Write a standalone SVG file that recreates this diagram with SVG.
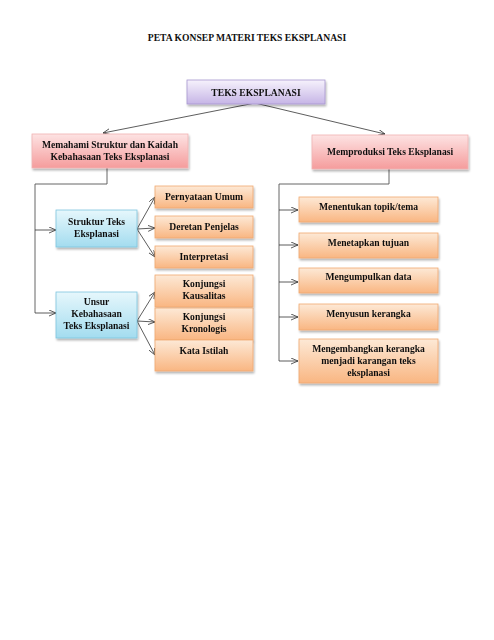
<svg xmlns="http://www.w3.org/2000/svg" width="494" height="640" viewBox="0 0 494 640">
<defs>
<linearGradient id="gPurple" x1="0" y1="0" x2="0" y2="1"><stop offset="0" stop-color="#f6f2fc"/><stop offset="1" stop-color="#c6b5e6"/></linearGradient>
<linearGradient id="gPink" x1="0" y1="0" x2="0" y2="1"><stop offset="0" stop-color="#fde3e3"/><stop offset="1" stop-color="#f59c9c"/></linearGradient>
<linearGradient id="gOrange" x1="0" y1="0" x2="0" y2="1"><stop offset="0" stop-color="#fde9d6"/><stop offset="1" stop-color="#f9b682"/></linearGradient>
<linearGradient id="gBlue" x1="0" y1="0" x2="0" y2="1"><stop offset="0" stop-color="#e6f7fc"/><stop offset="1" stop-color="#a3dcef"/></linearGradient>
<filter id="sh" x="-10%" y="-20%" width="130%" height="160%"><feGaussianBlur in="SourceAlpha" stdDeviation="1.2"/><feOffset dx="1" dy="2"/><feComponentTransfer><feFuncA type="linear" slope="0.3"/></feComponentTransfer><feMerge><feMergeNode/><feMergeNode in="SourceGraphic"/></feMerge></filter>
<marker id="arr" markerWidth="8" markerHeight="8" refX="7" refY="3" orient="auto" markerUnits="userSpaceOnUse"><path d="M0,0 L7,3 L0,6" fill="none" stroke="#333" stroke-width="0.8"/></marker>
</defs>
<style>
text{font-family:"Liberation Serif","Times New Roman",serif;font-weight:bold;fill:#111;text-anchor:middle;font-size:9.6px}
.title{font-size:9.6px}
.p{fill:url(#gPurple);stroke:#a797cf;stroke-width:0.8}
.k{fill:url(#gPink);stroke:#f1b3b3;stroke-width:0.8}
.o{fill:url(#gOrange);stroke:#f0a970;stroke-width:0.8}
.b{fill:url(#gBlue);stroke:#7ec5de;stroke-width:0.8}
.ln{fill:none;stroke:#333;stroke-width:0.8}
.tr{fill:none;stroke:#555;stroke-width:0.9}
</style>
<rect width="494" height="640" fill="#fff"/>
<text class="title" x="247" y="41">PETA KONSEP MATERI TEKS EKSPLANASI</text>

<g id="connectors">
<path class="ln" d="M255,103 L103,133" marker-end="url(#arr)"/>
<path class="ln" d="M255,103 L385,134" marker-end="url(#arr)"/>
<path class="tr" d="M107,168 V184 H35 V313"/>
<path class="ln" d="M35,230 H56" marker-end="url(#arr)"/>
<path class="ln" d="M35,313 H56" marker-end="url(#arr)"/>
<path class="ln" d="M137,229 L155,197" marker-end="url(#arr)"/>
<path class="ln" d="M137,229 L155,228" marker-end="url(#arr)"/>
<path class="ln" d="M137,229 L155,257" marker-end="url(#arr)"/>
<path class="ln" d="M137,321 L155,292" marker-end="url(#arr)"/>
<path class="ln" d="M137,321 L155,322" marker-end="url(#arr)"/>
<path class="ln" d="M137,321 L155,355" marker-end="url(#arr)"/>
<path class="tr" d="M389,168 V184 H279 V361"/>
<path class="ln" d="M279,210 H298" marker-end="url(#arr)"/>
<path class="ln" d="M279,245 H298" marker-end="url(#arr)"/>
<path class="ln" d="M279,282 H298" marker-end="url(#arr)"/>
<path class="ln" d="M279,317 H298" marker-end="url(#arr)"/>
<path class="ln" d="M279,361 H298" marker-end="url(#arr)"/>
</g>

<g id="n-teks" filter="url(#sh)"><rect class="p" x="187" y="80" width="138" height="24"/><text x="256" y="95.5">TEKS EKSPLANASI</text></g>
<g id="n-memahami" filter="url(#sh)"><rect class="k" x="32" y="134" width="156" height="34"/><text x="110" y="148">Memahami Struktur dan Kaidah</text><text x="110" y="160">Kebahasaan Teks Eksplanasi</text></g>
<g id="n-memproduksi" filter="url(#sh)"><rect class="k" x="312" y="135" width="156" height="34"/><text x="390" y="155">Memproduksi Teks Eksplanasi</text></g>

<g id="n-struktur" filter="url(#sh)"><rect class="b" x="56" y="210" width="81" height="37"/><text x="96.5" y="225">Struktur Teks</text><text x="96.5" y="237">Eksplanasi</text></g>
<g id="n-unsur" filter="url(#sh)"><rect class="b" x="56" y="292" width="81" height="46"/><text x="96.5" y="305">Unsur</text><text x="96.5" y="317">Kebahasaan</text><text x="96.5" y="329">Teks Eksplanasi</text></g>

<g id="n-pernyataan" filter="url(#sh)"><rect class="o" x="155" y="186" width="98" height="22"/><text x="204" y="200">Pernyataan Umum</text></g>
<g id="n-deretan" filter="url(#sh)"><rect class="o" x="155" y="216" width="98" height="22"/><text x="204" y="230">Deretan Penjelas</text></g>
<g id="n-interpretasi" filter="url(#sh)"><rect class="o" x="155" y="246" width="98" height="22"/><text x="204" y="260">Interpretasi</text></g>
<g id="n-kausalitas" filter="url(#sh)"><rect class="o" x="155" y="275" width="98" height="32"/><text x="204" y="287">Konjungsi</text><text x="204" y="299">Kausalitas</text></g>
<g id="n-kronologis" filter="url(#sh)"><rect class="o" x="155" y="308" width="98" height="32"/><text x="204" y="320">Konjungsi</text><text x="204" y="332">Kronologis</text></g>
<g id="n-istilah" filter="url(#sh)"><rect class="o" x="155" y="340" width="98" height="31"/><text x="204" y="354">Kata Istilah</text></g>

<g id="n-topik" filter="url(#sh)"><rect class="o" x="299" y="197" width="139" height="25"/><text x="368.5" y="210">Menentukan topik/tema</text></g>
<g id="n-tujuan" filter="url(#sh)"><rect class="o" x="299" y="233" width="139" height="25"/><text x="368.5" y="246">Menetapkan tujuan</text></g>
<g id="n-data" filter="url(#sh)"><rect class="o" x="299" y="268" width="139" height="25"/><text x="368.5" y="280">Mengumpulkan data</text></g>
<g id="n-kerangka" filter="url(#sh)"><rect class="o" x="299" y="304" width="139" height="26"/><text x="368.5" y="317">Menyusun kerangka</text></g>
<g id="n-mengembangkan" filter="url(#sh)"><rect class="o" x="299" y="339" width="139" height="44"/><text x="368.5" y="352">Mengembangkan kerangka</text><text x="368.5" y="364">menjadi karangan teks</text><text x="368.5" y="376">eksplanasi</text></g>
</svg>
